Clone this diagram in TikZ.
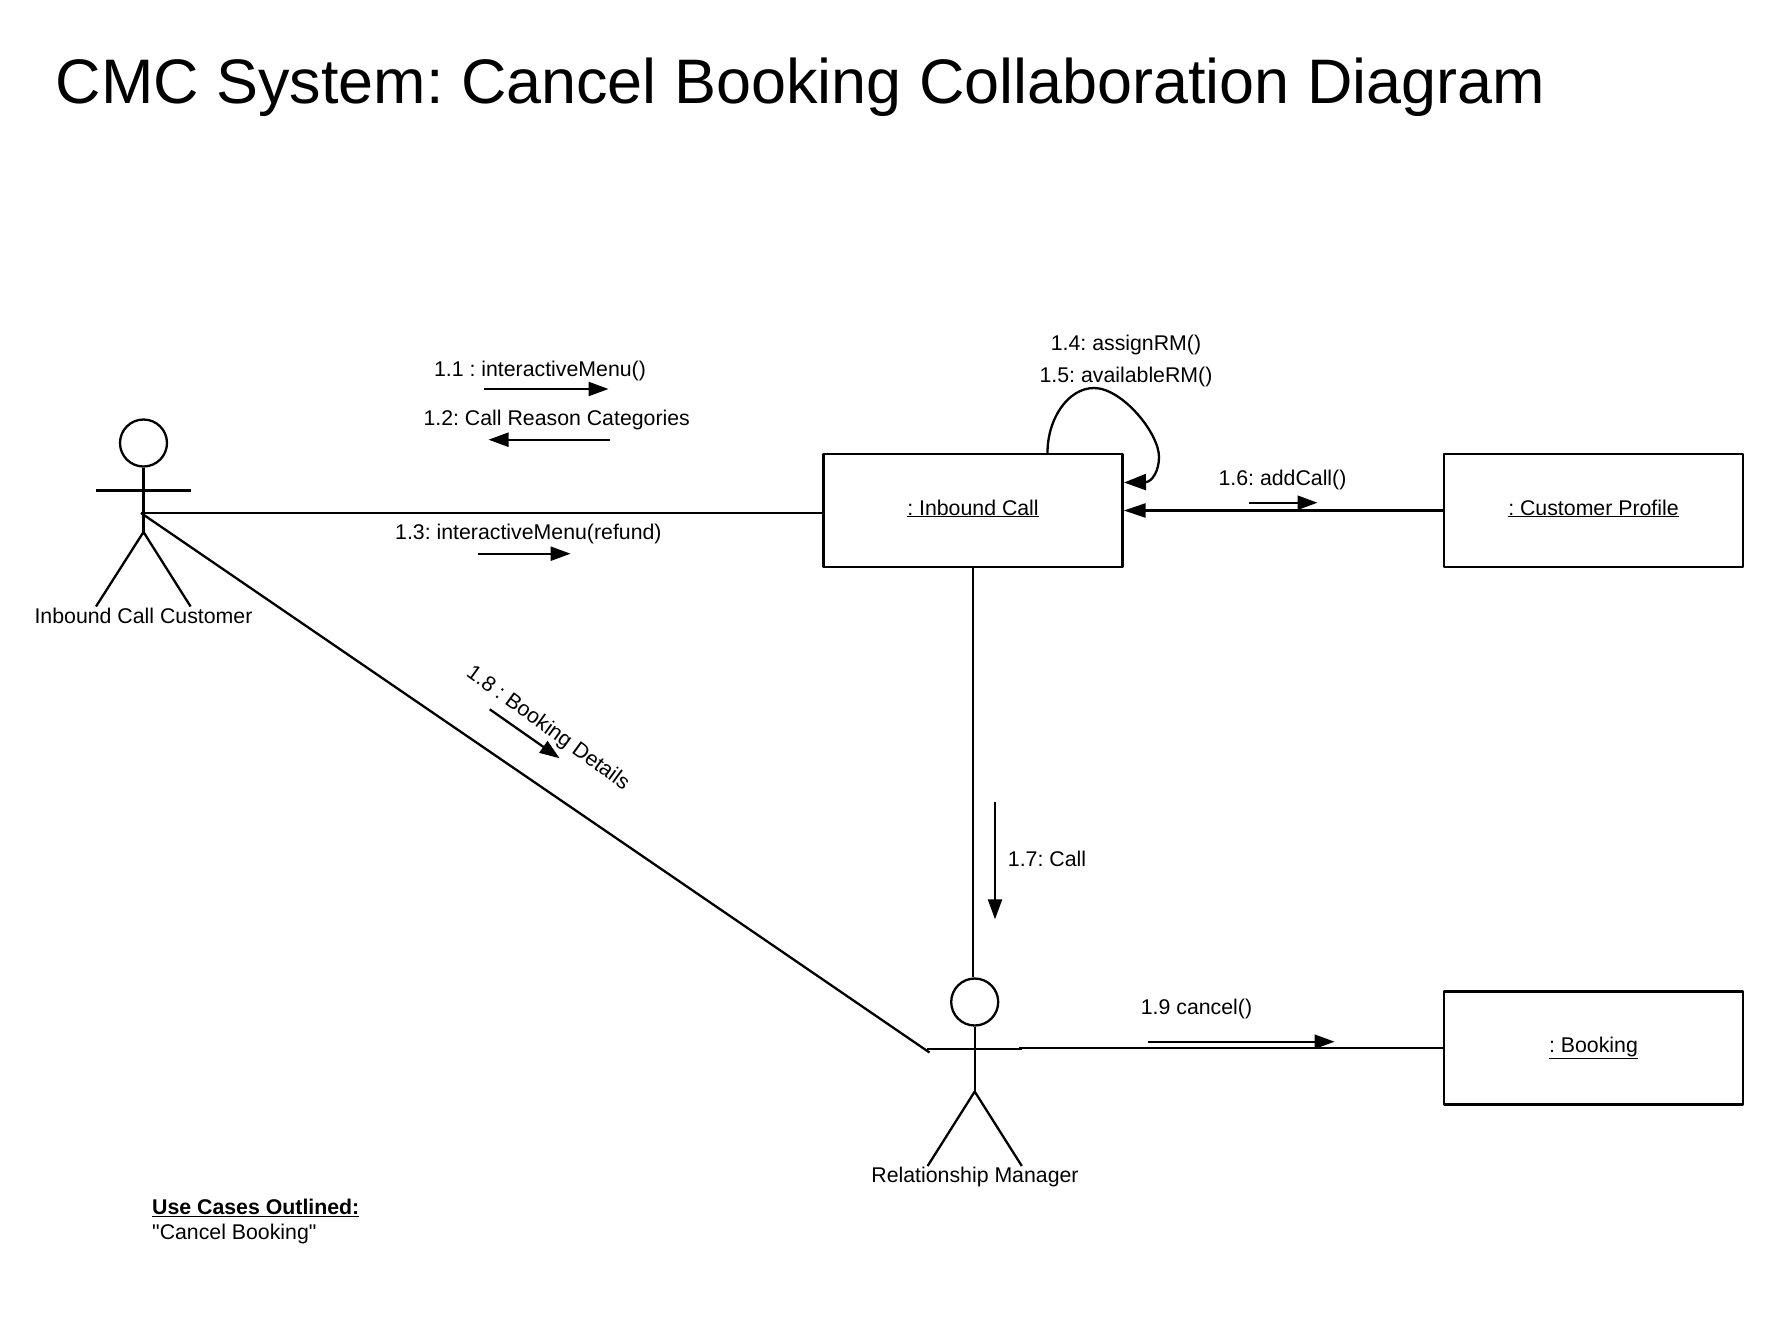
\documentclass[tikz,border=0pt]{standalone}
\usepackage{fontspec}
\setmainfont{Liberation Sans}
\newfontfamily\plainquote{Liberation Sans}
\usetikzlibrary{arrows.meta}
\frenchspacing
\tikzset{
  ln/.style={line width=2.3pt,draw=black,line join=round},
  msg/.style={ln,-{Triangle[length=20pt,width=14pt]}},
  objbox/.style={ln,rectangle,minimum width=299pt,minimum height=113pt,inner sep=0pt,fill=white,
    text height=15pt,text depth=6pt,font=\fontsize{21.3}{25}\selectfont},
  lbl/.style={inner sep=0pt,text height=15pt,text depth=1.3pt,font=\fontsize{21.3}{25}\selectfont},
  head/.style={ln,circle,minimum size=47pt,inner sep=0pt},
}
\begin{document}
\begin{tikzpicture}[x=1pt,y=-1pt]
\useasboundingbox (0,-1) rectangle (1779,1335);
\node[anchor=base west,inner sep=0pt,font=\fontsize{62.9}{70}\selectfont] (title) at (55.5,102.3) {CMC System: Cancel Booking Collaboration Diagram};

% boxes
\node[objbox] (call) at (973,509.5) {\underline{: Inbound Call}};
\node[objbox] (profile) at (1593.5,509.5) {\underline{: Customer Profile}};
\node[objbox] (booking) at (1593.5,1047) {\underline{: Booking}};

% actor 1
\node[head] (h1) at (143.5,442) {};
\coordinate (n1) at (143.5,531);
\coordinate (hip1) at (141,512);
\coordinate (al1) at (96,489.5);
\coordinate (ar1) at (190.6,489.5);
\coordinate (fl1) at (96,605.5);
\coordinate (fr1) at (190.6,605.5);
\draw[ln] (h1.south) -- (n1);
\draw[ln] (al1) -- (ar1);
\draw[ln] (fl1) -- (n1) -- (fr1);
\node[lbl] (a1label) at (143.5,616) {Inbound Call Customer};

% actor 2
\node[head] (h2) at (974.7,1001) {};
\coordinate (n2) at (974.7,1090.5);
\coordinate (al2) at (927,1048.3);
\coordinate (ar2) at (1021.7,1048.3);
\coordinate (fl2) at (927.6,1165);
\coordinate (fr2) at (1021.8,1165);
\draw[ln] (h2.south) -- (n2);
\draw[ln] (al2) -- (ar2);
\draw[ln] (fl2) -- (n2) -- (fr2);
\node[lbl] (a2label) at (975,1175) {Relationship Manager};

% links
\draw[ln] (hip1) -- (hip1 -| call.west);
\coordinate (diagend) at (929.5,1051.5);
\draw[ln] (hip1) -- (diagend);
\draw[ln] (call.south) -- (call.south |- h2.north);
\coordinate (bk) at (1019,1047);
\draw[ln] (bk) -- (booking.west);
\draw[ln,-{Triangle[length=22pt,width=14pt]}] (profile.west) -- (call.east);
\coordinate (loopstart) at (1047.5,453);
\coordinate (looptip) at (1124,481.5);
\draw[ln,-{Triangle[length=22pt,width=16pt]}] (loopstart) .. controls (1047,418) and (1068,387) .. (1094,387)
  .. controls (1122,387) and (1159,432) .. (1159,456) .. controls (1159,470) and (1152,481) .. (looptip);

% message arrows
\coordinate (m1a) at (484,388); \coordinate (m1b) at (608.5,388);
\draw[msg] (m1a) -- (m1b);
\coordinate (m2a) at (610,438.7); \coordinate (m2b) at (488.5,438.7);
\draw[msg] (m2a) -- (m2b);
\coordinate (m3a) at (477.6,552.7); \coordinate (m3b) at (570.6,552.7);
\draw[msg] (m3a) -- (m3b);
\coordinate (m6a) at (1249,501.7); \coordinate (m6b) at (1317.5,501.7);
\draw[msg] (m6a) -- (m6b);
\coordinate (m7a) at (995,800.7); \coordinate (m7b) at (995,918.3);
\draw[msg] (m7a) -- (m7b);
\coordinate (m8a) at (489.7,708.3); \coordinate (m8b) at (559.7,757.3);
\draw[msg] (m8a) -- (m8b);
\coordinate (m9a) at (1148,1040.7); \coordinate (m9b) at (1334.6,1040.7);
\draw[msg] (m9a) -- (m9b);

% labels
\node[lbl] (l1) at (540,369) {1.1 : interactiveMenu()};
\node[lbl] (l2) at (556.7,418) {1.2: Call Reason Categories};
\node[lbl] (l3) at (528.4,531.5) {1.3: interactiveMenu(refund)};
\node[lbl] (l4) at (1126,342.7) {1.4: assignRM()};
\node[lbl] (l5) at (1126,375) {1.5: availableRM()};
\node[lbl] (l6) at (1282.5,478) {1.6: addCall()};
\node[lbl] (l7) at (1047,859) {1.7: Call};
\node[lbl,rotate=-36] (l8) at (548.5,726.5) {1.8 : Booking Details};
\node[lbl] (l9) at (1196.5,1007) {1.9 cancel()};

\node[lbl,anchor=west] (uc1) at (152,1207) {\textbf{\underline{Use Cases Outlined:}}};
\node[lbl,anchor=west] (uc2) at (152,1232) {{\plainquote "Cancel Booking"}};
\end{tikzpicture}
\end{document}
